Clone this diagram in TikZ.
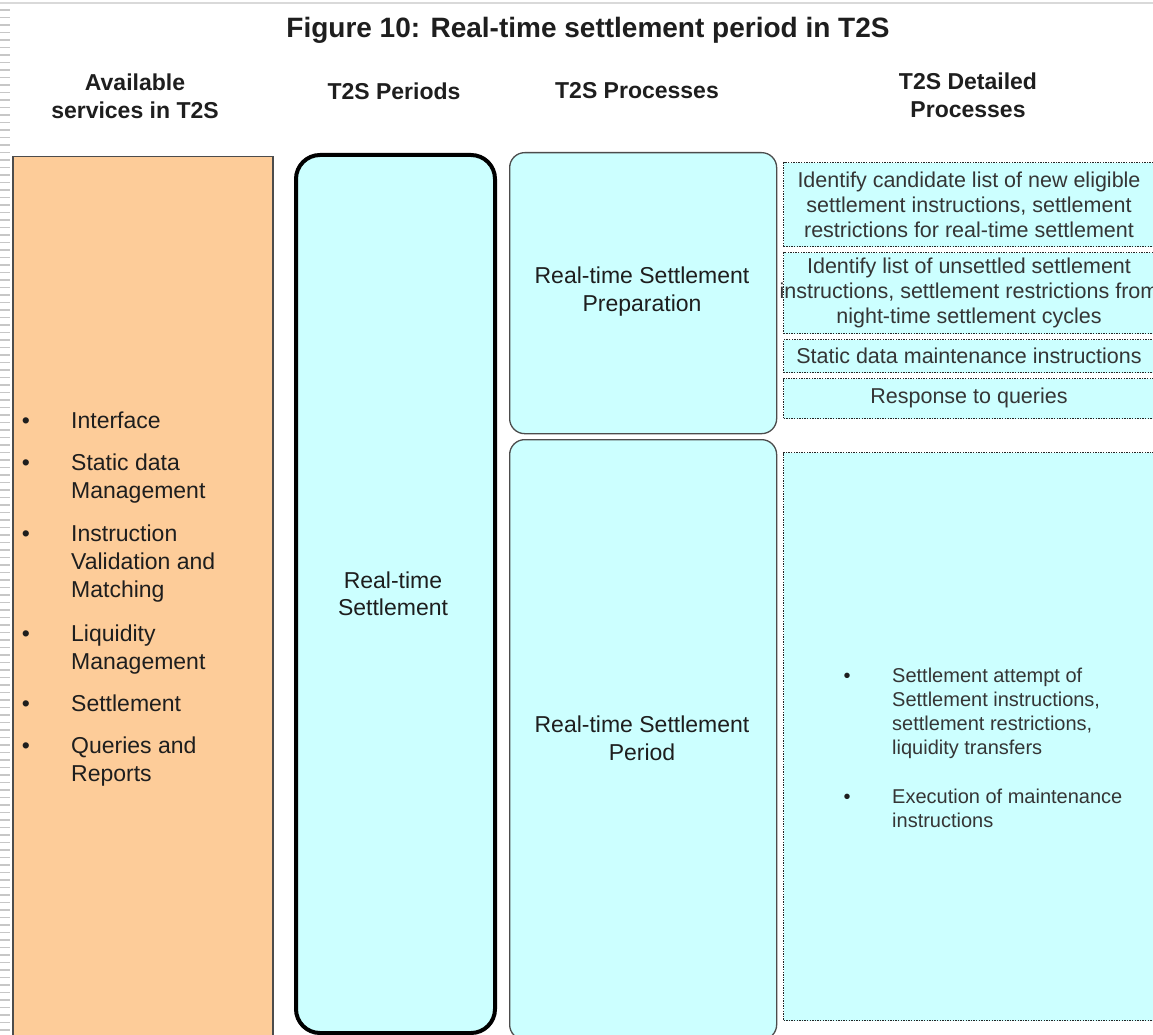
\documentclass[tikz,border=0pt]{standalone}
\usepackage{fontspec}
\setmainfont{Liberation Sans}
\definecolor{tanfill}{RGB}{253,204,153}
\definecolor{lcyan}{RGB}{204,255,255}
\definecolor{ink}{RGB}{30,30,30}
\begin{document}
\begin{tikzpicture}[x=1pt,y=-1pt,
  title/.style={font=\fontsize{28}{32}\selectfont\bfseries, text=ink},
  hdr/.style={font=\fontsize{23}{28}\selectfont\bfseries, align=center, text=ink},
  body/.style={font=\fontsize{23}{27.5}\selectfont, align=center, text=ink},
  item/.style={font=\fontsize{23}{28}\selectfont, align=left, text=ink, inner sep=0pt, anchor=north west},
  bul/.style={font=\fontsize{23}{28}\selectfont, text=ink, inner sep=0pt, anchor=base},
  ditem/.style={font=\fontsize{20}{24}\selectfont, align=left, text=ink!90, inner sep=0pt, anchor=north west},
  dbul/.style={font=\fontsize{20}{24}\selectfont, text=ink, inner sep=0pt, anchor=base},
  det/.style={font=\fontsize{21.5}{25}\selectfont, align=center, text=ink!90},
  svcbox/.style={draw=black!70, line width=1.5pt, fill=tanfill, anchor=north west, inner sep=0pt},
  perbox/.style={draw=black, line width=4pt, fill=lcyan, rounded corners=24pt, anchor=north west, inner sep=0pt},
  procbox/.style={draw=black!70, line width=1.3pt, fill=lcyan, rounded corners=15pt, anchor=north west, inner sep=0pt},
  dotbox/.style={draw=black!85, line width=1.3pt, dash pattern=on 1.4pt off 1.2pt, fill=lcyan, anchor=north west, inner sep=0pt, minimum width=373pt}
]
\useasboundingbox (0,0) rectangle (1153,1035);
\fill[white] (0,0) rectangle (1153,1035);
% page edge artefacts
\draw[black!15, line width=1.5pt] (0,3) -- (1153,3);
\foreach \k in {0,...,136} \draw[black!22, line width=1.3pt] (0,{10+7.5*\k}) -- (10,{10+7.5*\k});

% title and headers
\node[title] (ttl) at (588,30) {Figure 10: Real-time settlement period in T2S};
\node[hdr] (h1) at (135,96) {Available\\services in T2S};
\node[hdr] (h2) at (394,91) {T2S Periods};
\node[hdr] (h3) at (637,91) {T2S Processes};
\node[hdr] (h4) at (968,95) {T2S Detailed\\Processes};

% column 1: services
\node[svcbox, minimum width=260pt, minimum height=900pt] (svc) at (12,156) {};
\node[bul] (sb1) at (26,428) {•};
\node[item] (si1) at (71,408.4) {\strut Interface};
\node[bul] (sb2) at (26,470) {•};
\node[item] (si2) at (71,450.4) {\strut Static data\\Management};
\node[bul] (sb3) at (26,541) {•};
\node[item] (si3) at (71,521.4) {\strut Instruction\\Validation and\\Matching};
\node[bul] (sb4) at (26,641) {•};
\node[item] (si4) at (71,621.4) {\strut Liquidity\\Management};
\node[bul] (sb5) at (26,711) {•};
\node[item] (si5) at (71,691.4) {\strut Settlement};
\node[bul] (sb6) at (26,753) {•};
\node[item] (si6) at (71,733.4) {\strut Queries and\\Reports};

% column 2: periods
\node[perbox, minimum width=199pt, minimum height=878pt] (per) at (294,153) {};
\node[body] (pert) at (393,594) {Real-time\\Settlement};

% column 3: processes
\node[procbox, minimum width=267pt, minimum height=281pt] (prep) at (509,152) {};
\node[body] (prept) at (642,291.5) {Real-time Settlement\\Preparation};
\node[procbox, minimum width=267pt, minimum height=600pt] (rtsp) at (509,439) {};
\node[body] (rtspt) at (642,738.5) {Real-time Settlement\\Period};

% column 4: detailed processes
\node[dotbox, minimum height=84pt] (d1) at (783,162) {};
\node[det] (d1t) at (969,205) {Identify candidate list of new eligible\\settlement instructions, settlement\\restrictions for real-time settlement};
\node[dotbox, minimum height=81pt] (d2) at (783,252) {};
\node[det] (d2t) at (969,292.5) {Identify list of unsettled settlement\\instructions, settlement restrictions from\\night-time settlement cycles};
\node[dotbox, minimum height=33pt] (d3) at (783,339) {};
\node[det] (d3t) at (969,355.5) {Static data maintenance instructions};
\node[dotbox, minimum height=40pt] (d4) at (783,378) {};
\node[det] (d4t) at (969,398) {Response to queries};
\node[dotbox, minimum height=568pt] (d5) at (783,452) {};
\node[dbul] (db1) at (847,682) {•};
\node[ditem] (di1) at (892,665.2) {\strut Settlement attempt of\\Settlement instructions,\\settlement restrictions,\\liquidity transfers};
\node[dbul] (db2) at (847,803) {•};
\node[ditem] (di2) at (892,786.2) {\strut Execution of maintenance\\instructions};
\end{tikzpicture}
\end{document}
